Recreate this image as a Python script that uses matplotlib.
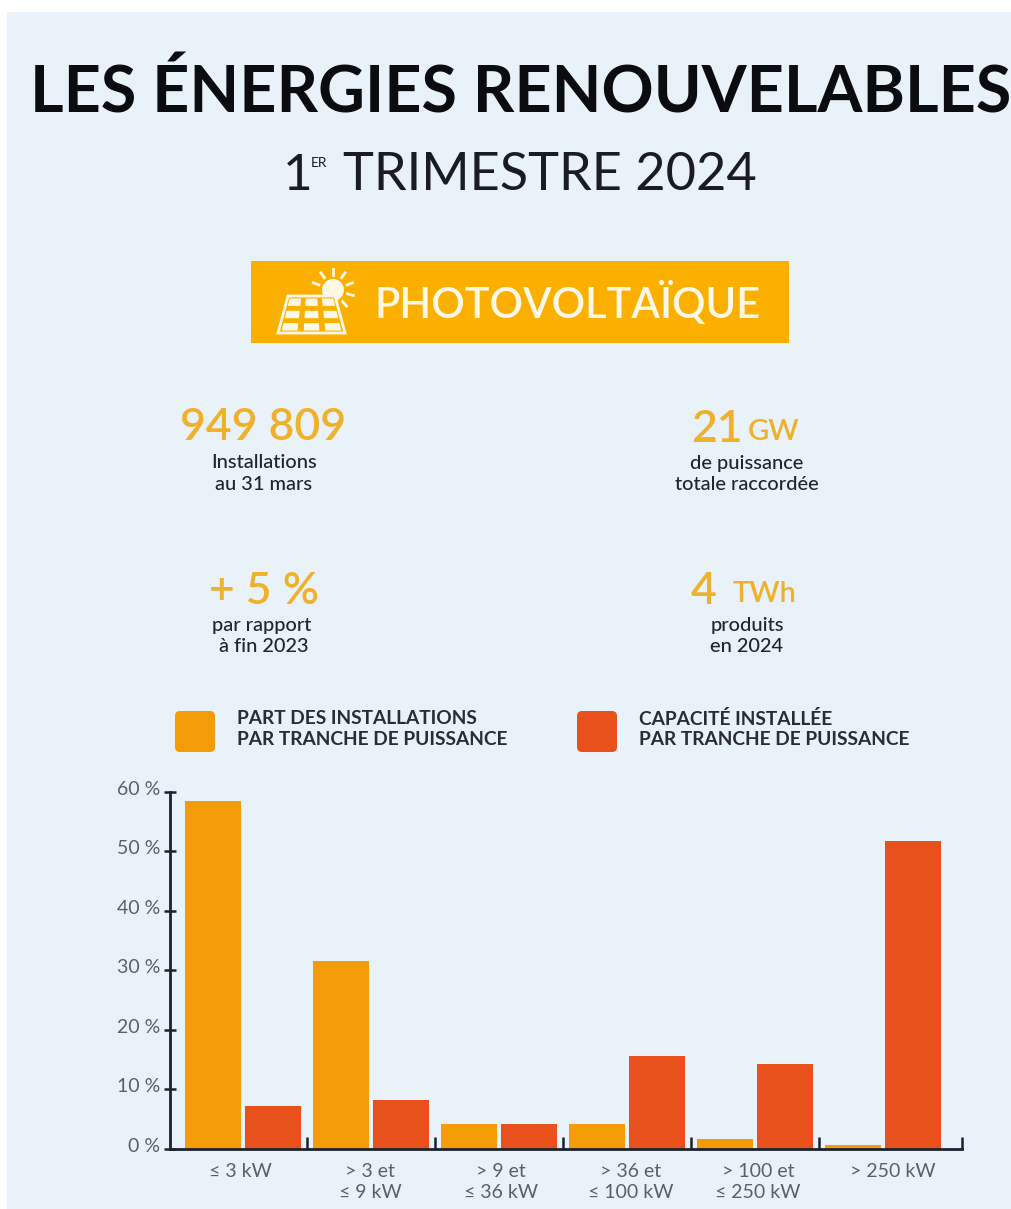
import numpy as np
import matplotlib
matplotlib.use('Agg')
import matplotlib.pyplot as plt
from matplotlib.patches import FancyBboxPatch, Polygon, Circle, Rectangle
from matplotlib.transforms import ScaledTranslation

tranches = ['≤ 3 kW', '> 3 et\n≤ 9 kW', '> 9 et\n≤ 36 kW', '> 36 et\n≤ 100 kW', '> 100 et\n≤ 250 kW', '> 250 kW']
part_installations = [58.5, 31.5, 4.2, 4.2, 1.6, 0.6]
capacite_installee = [7.2, 8.2, 4.2, 15.6, 14.2, 51.7]
y_ticks = [0, 10, 20, 30, 40, 50, 60]

legende_part = 'PART DES INSTALLATIONS\nPAR TRANCHE DE PUISSANCE'
legende_capacite = 'CAPACITÉ INSTALLÉE\nPAR TRANCHE DE PUISSANCE'

W, H = 1012, 1209
BG = '#EAF2F9'
ORANGE = '#F39C07'
RED = '#E8501C'
GOLD = '#EFB02A'
INK = '#22252B'
GREY = '#5C6066'
NAVY = '#1B2230'
CREAM = '#FFF8E6'
BADGE = '#FBB000'

plt.rcParams['font.family'] = ['Lato', 'DejaVu Sans']

fig = plt.figure(figsize=(W / 100, H / 100), dpi=100, facecolor='white')

# page layer in pixel coordinates
page = fig.add_axes([0, 0, 1, 1])
page.set_xlim(0, W)
page.set_ylim(H, 0)
page.axis('off')
page.add_patch(Rectangle((7, 12), W - 7, H - 12, fc=BG, ec='none'))


def txt(x, y, s, size, color=INK, weight='normal', ha='center', va='center', **kw):
    return page.text(x, y, s, fontsize=size, color=color, fontweight=weight, ha=ha, va=va, **kw)


txt(521, 93, 'LES ÉNERGIES RENOUVELABLES', 46.5, color='#0B0C10', weight='bold')
txt(283, 176, '1', 37, color='#1A1C22', ha='left')
txt(311, 163, 'ER', 10, color='#1A1C22', ha='left')
txt(343, 176, 'TRIMESTRE 2024', 37.6, color='#1A1C22', ha='left')

# badge with the solar panel icon
page.add_patch(Rectangle((251, 261), 538, 82, fc=BADGE, ec='none'))
txt(375, 303, 'PHOTOVOLTAÏQUE', 30, color=CREAM, ha='left', weight=600)

page.add_patch(Circle((333, 290), 11, fc=CREAM, ec='none', zorder=2))
for deg in [-160, -125, -90, -55, -20, 15, 50]:
    a = np.radians(deg)
    page.plot([333 + 15 * np.cos(a), 333 + 21 * np.cos(a)],
              [290 + 15 * np.sin(a), 290 + 21 * np.sin(a)], color=CREAM, lw=2, zorder=2)
page.add_patch(Polygon([(288, 296), (335, 296), (345, 333), (278, 333)], closed=True, fc=BADGE, ec=CREAM, lw=2, zorder=3))


def panel_point(u, v):
    # u across, v down the panel face
    left = 288 - 10 * v
    right = 335 + 10 * v
    return (left + (right - left) * u, 296 + 37 * v)


for i in range(3):
    for j in range(3):
        u0, u1 = (i + 0.14) / 3, (i + 0.86) / 3
        v0, v1 = (j + 0.2) / 3, (j + 0.8) / 3
        page.add_patch(Polygon([panel_point(u0, v0), panel_point(u1, v0), panel_point(u1, v1), panel_point(u0, v1)],
                               closed=True, fc=CREAM, ec='none', zorder=4))

# key figures
txt(263, 427, '949 809', 32, color=GOLD, weight=600)
txt(264, 463, 'Installations', 14.4, weight=500)
txt(264, 484, 'au 31 mars', 14.4, weight=500)
txt(691, 429, '21', 32, color=GOLD, ha='left', weight=600)
txt(748, 432, 'GW', 21, color=GOLD, ha='left', weight=600)
txt(747, 463, 'de puissance', 14.4, weight=500)
txt(747, 484, 'totale raccordée', 14.4, weight=500)
txt(264, 592, '+ 5 %', 32, color=GOLD, weight=600)
txt(262, 625, 'par rapport', 14.4, weight=500)
txt(264, 646, 'à fin 2023', 14.4, weight=500)
txt(691, 591, '4', 32, color=GOLD, ha='left', weight=600)
txt(733, 594, 'TWh', 21, color=GOLD, ha='left', weight=600)
txt(747, 625, 'produits', 14.4, weight=500)
txt(747, 646, 'en 2024', 14.4, weight=500)

# legend
for x, c, label in [(175, ORANGE, legende_part), (577, RED, legende_capacite)]:
    page.add_patch(FancyBboxPatch((x + 3, 714), 34, 35, boxstyle='round,pad=3,rounding_size=5', fc=c, ec='none'))
    txt(x + 62, 729, label, 13.8, color='#2A2D33', weight='bold', ha='left', linespacing=1.28)

# bar chart, x positions in tranche units
ax = fig.add_axes([170 / W, 1 - 1149 / H, 792 / W, (1149 - 791.7) / H])
ax.patch.set_alpha(0)
x_pos = np.arange(len(tranches))
ax.bar(x_pos - 0.232, part_installations, width=0.4375, color=ORANGE)
ax.bar(x_pos + 0.232, capacite_installee, width=0.4375, color=RED)
ax.set_xlim(-0.57, 5.617)
ax.set_ylim(0, 60)
for s in ['top', 'right']:
    ax.spines[s].set_visible(False)
for s in ['left', 'bottom']:
    ax.spines[s].set_color(NAVY)
    ax.spines[s].set_linewidth(2)
ax.set_yticks(y_ticks)
ax.set_yticklabels(['%d %%' % v for v in y_ticks], color=GREY, fontsize=14)
ax.tick_params(axis='y', direction='inout', length=8, width=1.8, color=NAVY, pad=3)
# labels sit a little above their ticks
lift = ScaledTranslation(0, 3 / 72, fig.dpi_scale_trans)
for t in ax.get_yticklabels():
    t.set_transform(t.get_transform() + lift)
ax.set_xticks([0.5, 1.5, 2.5, 3.5, 4.5, 5.617])
ax.set_xticklabels([])
ax.tick_params(axis='x', direction='in', length=9, width=1.8, color=NAVY)

label_x = [240, 370, 501, 631, 758, 893]
for lx, label in zip(label_x, tranches):
    txt(lx, 1163, label, 14, color=GREY, va='top', linespacing=1.28)

fig.savefig('out.png', dpi=100, facecolor=fig.get_facecolor())
